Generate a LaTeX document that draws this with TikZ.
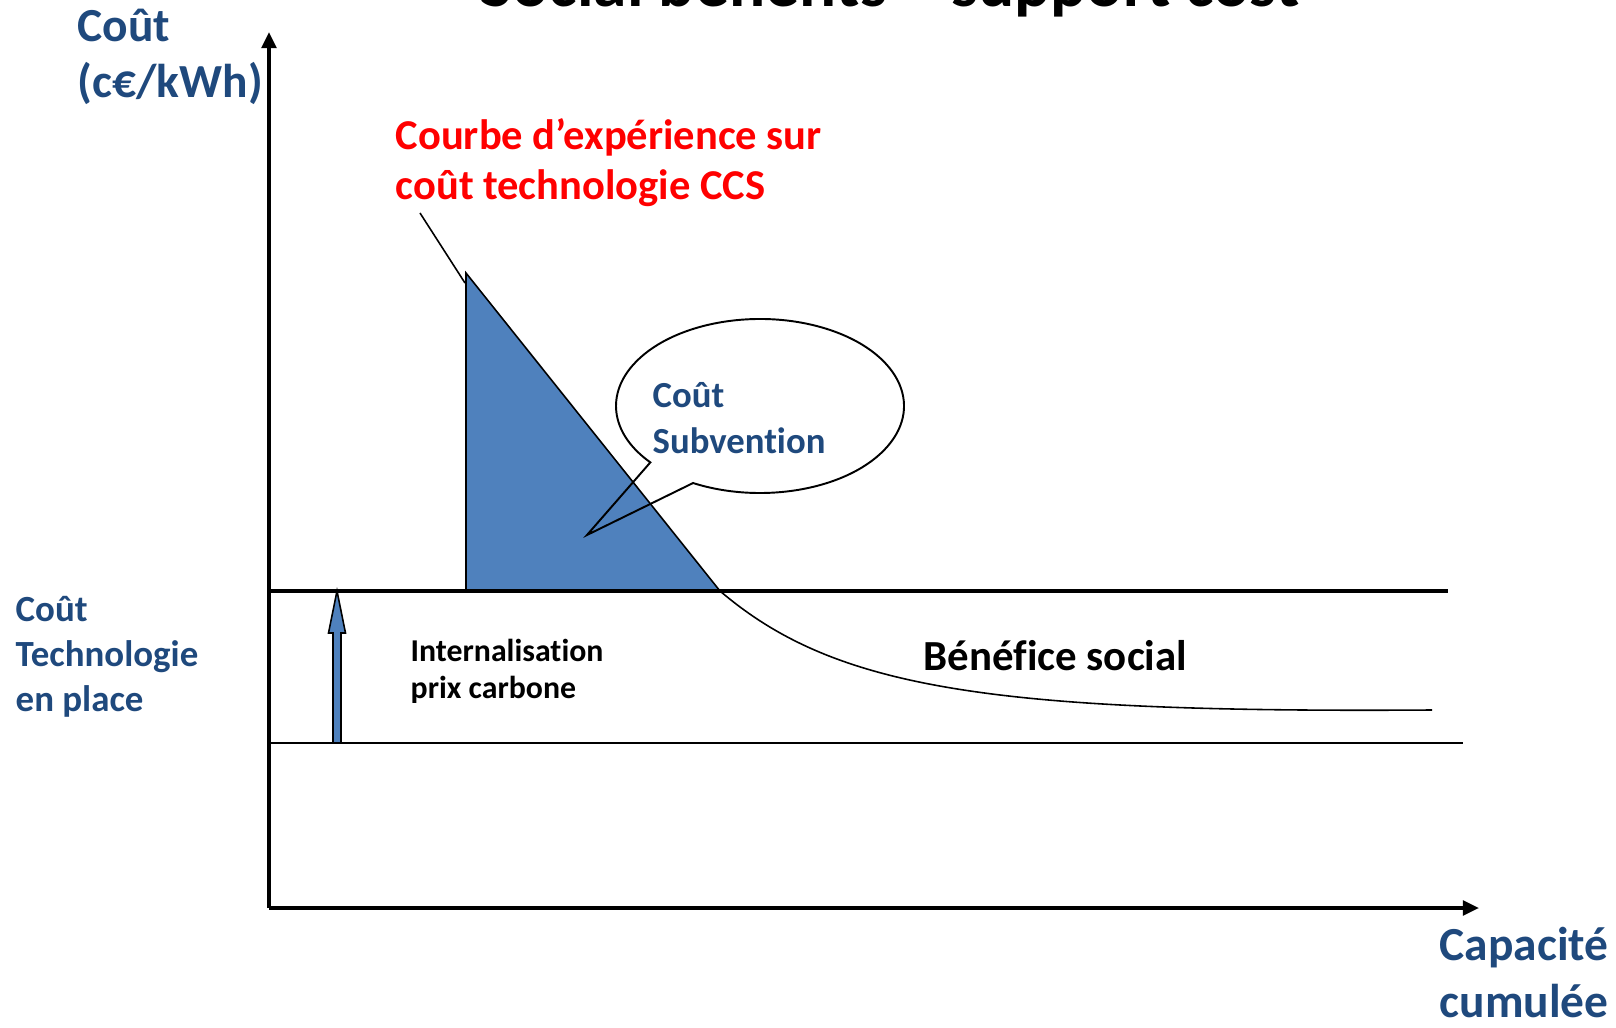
\documentclass[tikz,border=0pt]{standalone}
\usepackage{fontspec}
\setmainfont[Ligatures=NoCommon]{Carlito}
\usetikzlibrary{arrows.meta,calc}
\definecolor{txtblue}{RGB}{31,73,125}
\definecolor{ccsblue}{RGB}{79,129,189}
\newcommand{\fsz}[2]{\fontsize{#1}{#2}\selectfont\bfseries}

\begin{document}
\begin{tikzpicture}[every node/.style={inner sep=0pt, align=left},
  axis/.style={line width=0.95pt, -{Triangle[width=4.2pt,length=4.6pt]}},
  axlbl/.style={font=\fsz{13.5pt}{16.2pt}, text=txtblue},
  sidelbl/.style={font=\fsz{10.5pt}{12.8pt}, text=txtblue}]
\useasboundingbox (0,0) rectangle (16.16,10.27);
% title, cut by the page edge
\node[anchor=base, font=\fsz{19.2pt}{22pt}] (title) at (8.90,10.20) {Social benefits > support cost};
% axes
\coordinate (O) at (2.69,1.19);
\coordinate (ytop) at (2.69,9.95);
\coordinate (xend) at (14.79,1.19);
\draw[axis] (O) -- (ytop);
\draw[axis] (O) -- (xend);
\node[axlbl, anchor=base west] (ylbl) at (0.77,9.29) {Coût\\(c€/kWh)};
\node[axlbl, anchor=base west] (xlbl) at (14.39,0.10) {Capacité\\cumulée};
% subsidy triangle under the experience curve
\coordinate (apex) at (4.66,7.54);
\coordinate (base) at (4.66,4.36);
\coordinate (cross) at (7.20,4.36);
\draw[fill=ccsblue, line width=0.45pt] (apex) -- (cross) -- (base) -- cycle;
\draw[line width=0.45pt] (cross) .. controls (8.35,3.38) and (9.9,3.14) .. (14.32,3.17);
% cost levels
\coordinate (techl) at (2.69,4.36);
\coordinate (techr) at (14.48,4.36);
\coordinate (refl) at (2.69,2.84);
\coordinate (refr) at (14.63,2.84);
\draw[line width=1.15pt] (techl) -- (techr);
\draw[line width=0.4pt] (refl) -- (refr);
% carbon price arrow
\draw[fill=ccsblue, line width=0.45pt] (3.33,2.84) -- (3.33,3.94) -- (3.285,3.94) -- (3.37,4.36) -- (3.455,3.94) -- (3.41,3.94) -- (3.41,2.84) -- cycle;
\node[sidelbl, anchor=base west] (techlbl) at (0.15,3.16) {Coût\\Technologie\\en place};
\node[anchor=base west, font=\fsz{9.05pt}{10.4pt}] (carblbl) at (4.10,3.29) {Internalisation\\prix carbone};
\node[anchor=base west, font=\fsz{12.2pt}{14pt}] (benlbl) at (9.23,3.57) {Bénéfice social};
% experience curve label
\node[anchor=base west, font=\fsz{12.1pt}{14.4pt}, text=red] (ccslbl) at (3.95,8.27) {Courbe d’expérience sur\\coût technologie CCS};
\coordinate (lead) at (4.20,8.14);
\coordinate (leadend) at (4.65,7.44);
\draw[line width=0.45pt] (lead) -- (leadend);
% speech bubble
\coordinate (bub) at (7.60,6.21);
\coordinate (tip) at (5.87,4.92);
\draw[line width=0.55pt] ($(bub)+(242.3:1.44 and 0.87)$) arc[start angle=242.3, end angle=580.4, x radius=1.44, y radius=0.87] -- (tip) -- cycle;
\node[sidelbl, anchor=base west, font=\fsz{10.45pt}{13.1pt}] (subvlbl) at (6.52,5.73) {Coût\\Subvention};
\end{tikzpicture}
\end{document}
